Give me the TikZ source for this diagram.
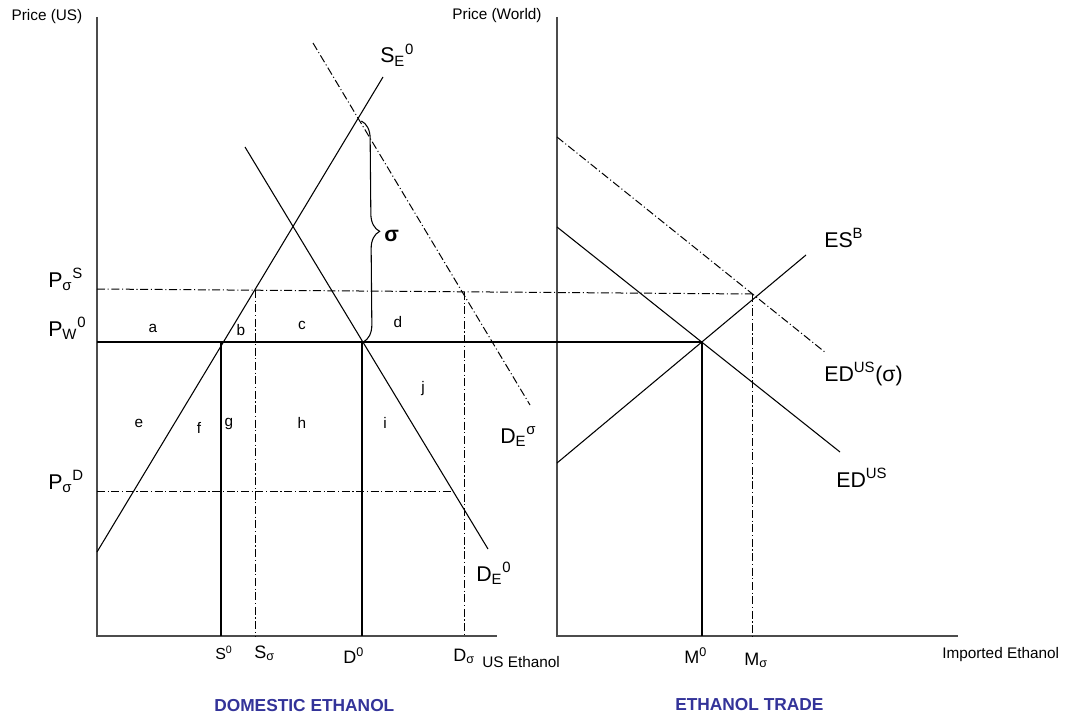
\documentclass[tikz,border=0pt]{standalone}
\usepackage{fontspec}
\setmainfont{Liberation Sans}
\usetikzlibrary{decorations.pathreplacing}
\definecolor{titleblue}{RGB}{51,51,153}
\tikzset{
  curve/.style={line width=0.8pt},
  thickline/.style={line width=2.2pt},
  policy/.style={line width=0.75pt,dash pattern=on 6pt off 2pt on 0.8pt off 2pt},
  axisline/.style={line width=0.9pt,black!70},
  big/.style={font=\fontsize{16}{18}\selectfont,anchor=base west,inner sep=0pt},
  mid/.style={font=\fontsize{13.5}{16}\selectfont,anchor=base west,inner sep=0pt},
  small/.style={font=\fontsize{11.5}{14}\selectfont,inner sep=0pt},
  title/.style={font=\bfseries\fontsize{13}{15}\selectfont,text=titleblue,anchor=base west,inner sep=0pt}
}
\begin{document}
\begin{tikzpicture}[x=0.75pt,y=-0.75pt]
  \useasboundingbox (0,0) rectangle (1068,717);
  % axes
  \coordinate (yus) at (97,17);
  \coordinate (ous) at (97,636);
  \coordinate (xus) at (497,636);
  \coordinate (yw) at (557,17);
  \coordinate (ow) at (557,636);
  \coordinate (xw) at (958,636);
  \draw[axisline] (yus) -- (ous) -- (xus);
  \draw[axisline] (yw) -- (ow) -- (xw);
  \node[small] (pus) at (47,17) {Price (US)};
  \node[small] (pworld) at (497,16) {Price (World)};
  \node[small,anchor=base west] (usq) at (482,667) {US Ethanol};
  \node[small,anchor=base west] (impq) at (942,658) {Imported Ethanol};
  % domestic market
  \coordinate (sea) at (97,552);
  \coordinate (seb) at (383,77);
  \coordinate (dea) at (245,147);
  \coordinate (deb) at (488,549);
  \coordinate (dsa) at (313,43);
  \coordinate (dsb) at (530,405);
  \coordinate (pwl) at (97,342);
  \coordinate (s0top) at (221,342);
  \coordinate (s0bot) at (221,636);
  \coordinate (d0top) at (362,342);
  \coordinate (d0bot) at (362,636);
  \coordinate (sstop) at (255,290);
  \coordinate (ssbot) at (255,636);
  \coordinate (dstop) at (464,292);
  \coordinate (dsbot) at (464,636);
  \coordinate (pssl) at (97,289);
  \coordinate (pssr) at (752,294);
  \coordinate (psdl) at (97,491);
  \coordinate (psdr) at (452,491);
  \coordinate (brtop) at (360,121);
  \draw[curve] (sea) -- (seb);
  \draw[curve] (dea) -- (deb);
  \draw[policy] (dsa) -- (dsb);
  \draw[policy] (pssl) -- (pssr);
  \draw[policy] (psdl) -- (psdr);
  \draw[policy] (sstop) -- (ssbot);
  \draw[policy] (dstop) -- (dsbot);
  \draw[thickline] (s0top) -- (s0bot);
  \draw[thickline] (d0top) -- (d0bot);
  \draw[curve,decorate,decoration={brace,amplitude=13pt,raise=1pt}] (brtop) -- (d0top);
  % trade market
  \coordinate (eq) at (702,342);
  \coordinate (m0bot) at (702,636);
  \coordinate (msbot) at (752,636);
  \coordinate (eda) at (557,227);
  \coordinate (edb) at (840,452);
  \coordinate (edsa) at (557,137);
  \coordinate (edsb) at (826,353);
  \coordinate (esa) at (557,463);
  \coordinate (esb) at (806,255);
  \draw[curve] (eda) -- (edb);
  \draw[curve] (esa) -- (esb);
  \draw[policy] (edsa) -- (edsb);
  \draw[policy] (pssr) -- (msbot);
  \draw[thickline] (pwl) -- (eq) -- (m0bot);
  % labels
  \node[big] (lse) at (380,63) {S\textsubscript{E}\textsuperscript{0}};
  \node[big] (lde) at (476,581) {D\textsubscript{E}\textsuperscript{0}};
  \node[big] (lds) at (500,443) {D\textsubscript{E}\textsuperscript{σ}};
  \node[big] (lps) at (48,287) {P\textsubscript{σ}\textsuperscript{S}};
  \node[big] (lpw) at (48,336) {P\textsubscript{W}\textsuperscript{0}};
  \node[big] (lpd) at (48,489) {P\textsubscript{σ}\textsuperscript{D}};
  \node[big,font=\bfseries\fontsize{16}{18}\selectfont] (sig) at (384,241) {σ};
  \node[big] (les) at (824,247) {ES\textsuperscript{B}};
  \node[big] (leds) at (824,381) {ED\textsuperscript{US}(σ)};
  \node[big] (led) at (836,487) {ED\textsuperscript{US}};
  \node[mid,font=\fontsize{12}{14}\selectfont] (ls0) at (215,659) {S\textsuperscript{0}};
  \node[mid] (lss) at (254,658) {S\textsubscript{σ}};
  \node[mid] (ld0) at (343,663) {D\textsuperscript{0}};
  \node[mid] (lds0) at (453,661) {D\textsubscript{σ}};
  \node[mid] (lm0) at (684,663) {M\textsuperscript{0}};
  \node[mid] (lms) at (744,665) {M\textsubscript{σ}};
  \node[small] (la) at (153,328) {a};
  \node[small] (lb) at (241,330) {b};
  \node[small] (lc) at (302,325) {c};
  \node[small] (ld) at (398,322) {d};
  \node[small] (le) at (139,423) {e};
  \node[small] (lf) at (199,428) {f};
  \node[small] (lg) at (229,424) {g};
  \node[small] (lh) at (302,423) {h};
  \node[small] (li) at (385,423) {i};
  \node[small] (lj) at (423,389) {j};
  \node[title] (tdom) at (214,711) {DOMESTIC ETHANOL};
  \node[title] (ttrade) at (675,710) {ETHANOL TRADE};
\end{tikzpicture}
\end{document}
